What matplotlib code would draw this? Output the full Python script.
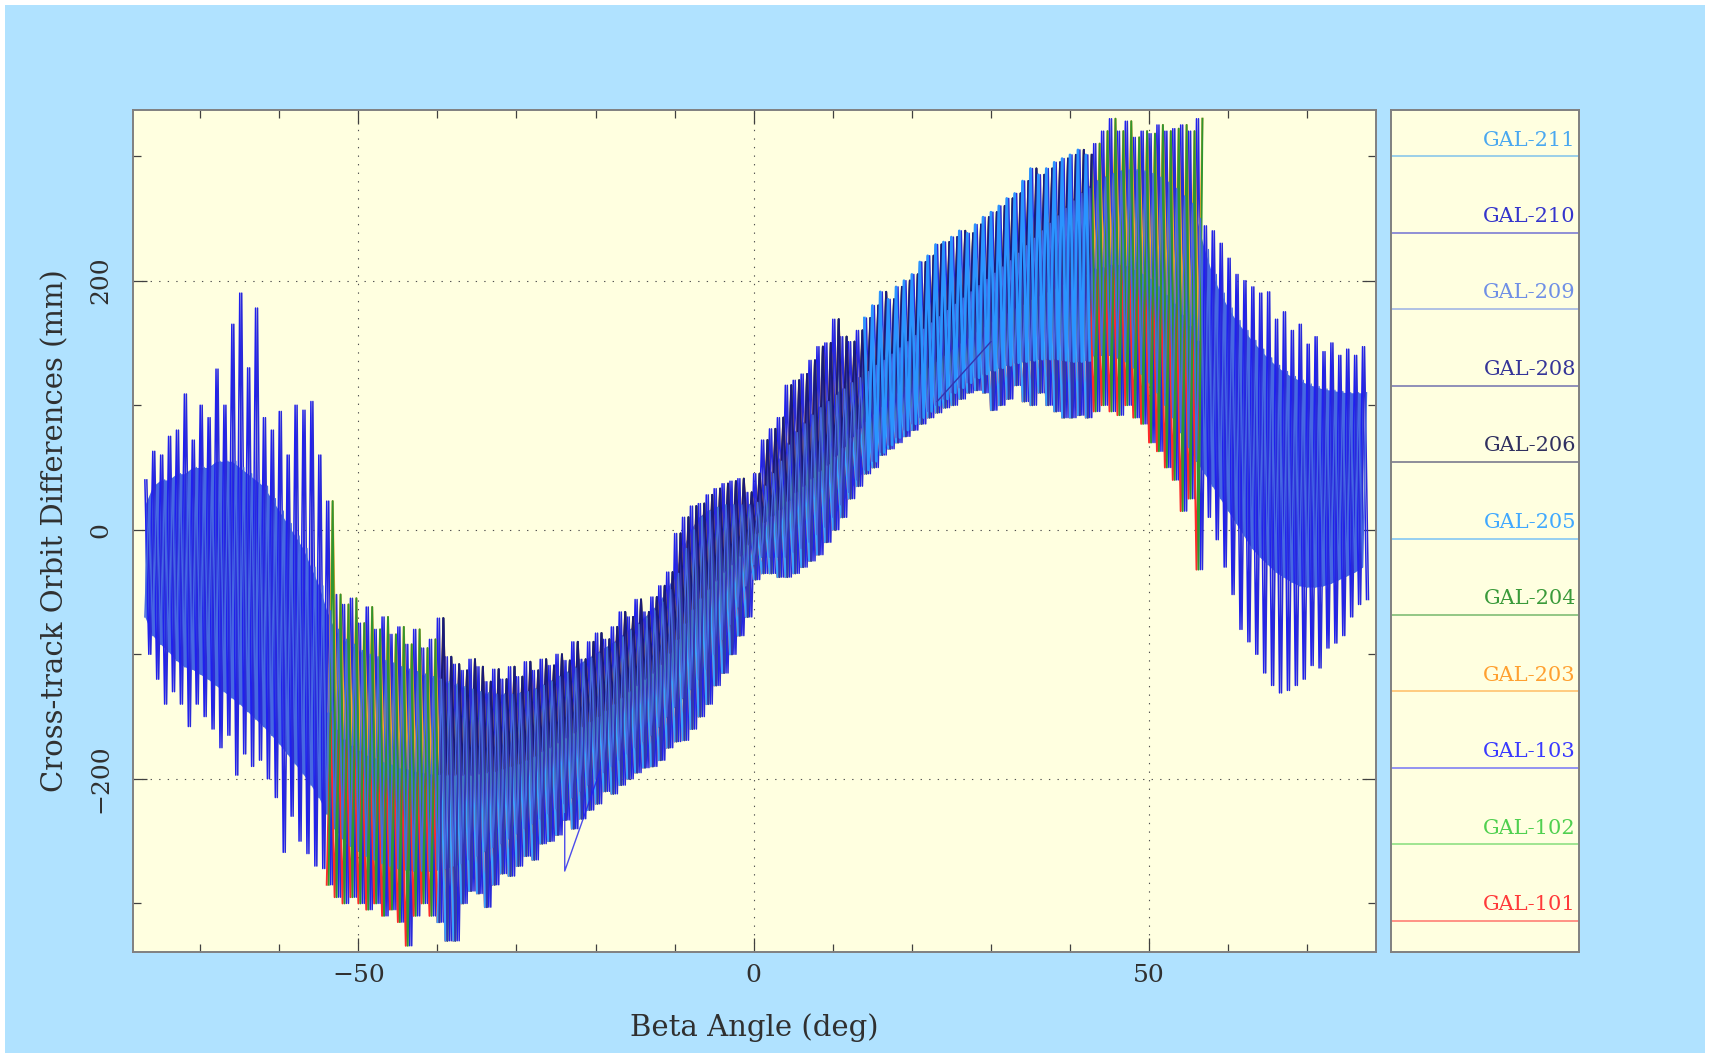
import numpy as np
import matplotlib.pyplot as plt
from matplotlib.patches import Rectangle

# ---- data ----

# beta angle grid (deg), one reading per degree
beta = np.arange(-77, 78)

# reach of the spikes, of the dense core and the core middle at each beta (mm)
spike_hi = [40, 63, 60, 75, 80, 109, 72, 100, 90, 129,
            100, 165, 190, 130, 178, 90, 80, 95, 60, 100,
            96, 103, 60, 23, -52, -60, -55, -75, -62, -80,
            -70, -84, -78, -92, -80, -95, -88, -71, -102, -108,
            -113, -104, -110, -122, -112, -120, -110, -118, -106, -113,
            -104, -109, -100, -105, -90, -104, -90, -83, -88, -78,
            -66, -70, -56, -66, -54, -45, -34, -3, 10, 19,
            21, 28, 33, 37, 39, 41, 30, 45, 72, 81,
            90, 116, 120, 125, 136, 147, 150, 169, 155, 151,
            160, 170, 180, 191, 185, 195, 200, 205, 215, 220,
            229, 231, 235, 240, 238, 245, 251, 255, 260, 266,
            270, 280, 290, 285, 290, 295, 298, 301, 305, 301,
            310, 320, 330, 320, 328, 315, 320, 318, 325, 320,
            322, 325, 320, 330, 244, 240, 230, 218, 205, 200,
            195, 190, 191, 169, 175, 160, 165, 149, 155, 143,
            150, 140, 145, 140, 147]
core_hi = [20, 35, 40, 40, 45, 45, 50, 50, 50, 55,
           55, 55, 50, 45, 40, 35, 25, 15, 5, -5,
           -15, -30, -45, -65, -80, -88, -92, -97, -100, -102,
           -105, -107, -110, -112, -114, -116, -118, -120, -122, -124,
           -126, -128, -130, -131, -132, -132, -132, -131, -130, -128,
           -125, -122, -118, -115, -111, -107, -103, -99, -95, -91,
           -86, -81, -76, -71, -65, -58, -48, -35, -15, 0,
           10, 15, 18, 20, 20, 20, 20, 22, 35, 45,
           55, 68, 78, 85, 92, 98, 103, 108, 113, 118,
           122, 127, 132, 136, 141, 146, 151, 156, 161, 166,
           171, 176, 181, 186, 191, 196, 201, 206, 211, 216,
           222, 228, 234, 240, 246, 252, 258, 264, 270, 274,
           280, 283, 286, 288, 289, 289, 288, 286, 283, 279,
           274, 268, 262, 250, 225, 205, 190, 178, 168, 160,
           152, 145, 138, 132, 127, 123, 120, 117, 115, 113,
           112, 111, 110, 110, 110]
core_mid = [-25, -25, -26, -29, -30, -32, -31, -33, -35, -35,
            -38, -40, -45, -50, -56, -62, -70, -78, -88, -96,
            -105, -117, -130, -146, -160, -168, -173, -177, -181, -183,
            -186, -188, -191, -192, -194, -195, -196, -196, -197, -197,
            -197, -197, -196, -195, -194, -192, -190, -188, -185, -182,
            -178, -175, -171, -167, -163, -158, -154, -150, -145, -140,
            -135, -130, -125, -120, -115, -108, -99, -88, -75, -64,
            -55, -48, -41, -34, -28, -21, -12, -3, 6, 11,
            16, 23, 30, 35, 41, 47, 52, 59, 66, 74,
            81, 87, 93, 99, 104, 110, 115, 120, 125, 130,
            135, 140, 145, 150, 154, 159, 163, 167, 170, 174,
            178, 181, 185, 188, 191, 194, 197, 199, 202, 205,
            210, 211, 213, 213, 212, 209, 206, 202, 196, 189,
            182, 173, 164, 152, 135, 120, 108, 96, 86, 77,
            68, 61, 55, 49, 44, 40, 37, 35, 34, 34,
            34, 35, 36, 38, 40]
core_lo = [-70, -85, -92, -98, -105, -110, -112, -116, -120, -125,
           -130, -135, -140, -146, -152, -158, -165, -172, -180, -188,
           -196, -205, -215, -228, -240, -248, -254, -258, -262, -265,
           -268, -270, -272, -273, -274, -274, -274, -273, -272, -270,
           -268, -265, -262, -258, -255, -252, -248, -244, -240, -236,
           -232, -228, -224, -220, -215, -210, -205, -200, -195, -190,
           -185, -180, -175, -170, -165, -158, -150, -142, -135, -128,
           -120, -112, -100, -88, -76, -62, -45, -28, -22, -22,
           -22, -22, -18, -15, -10, -4, 2, 10, 20, 30,
           40, 48, 55, 62, 68, 74, 80, 85, 90, 95,
           100, 105, 110, 114, 118, 122, 125, 128, 130, 132,
           134, 135, 136, 137, 137, 137, 136, 135, 135, 136,
           140, 140, 140, 138, 135, 130, 125, 118, 110, 100,
           90, 78, 66, 55, 45, 35, 25, 15, 5, -5,
           -15, -22, -28, -34, -38, -42, -45, -46, -46, -45,
           -43, -40, -37, -34, -30]
spike_lo = [-100, -120, -140, -130, -140, -158, -140, -150, -160, -175,
            -165, -197, -180, -190, -185, -200, -215, -259, -230, -250,
            -260, -270, -272, -285, -295, -300, -295, -300, -305, -300,
            -310, -305, -315, -334, -310, -300, -310, -315, -330, -330,
            -300, -290, -292, -303, -285, -276, -278, -270, -262, -265,
            -252, -250, -245, -233, -240, -232, -225, -220, -210, -212,
            -205, -200, -195, -191, -190, -185, -175, -170, -169, -160,
            -150, -140, -125, -115, -100, -85, -70, -40, -35, -35,
            -38, -38, -35, -30, -25, -20, -10, 0, 10, 25,
            35, 45, 50, 60, 65, 70, 75, 80, 85, 90,
            94, 98, 100, 105, 110, 112, 110, 96, 100, 105,
            116, 103, 100, 110, 100, 95, 90, 90, 92, 90,
            95, 100, 95, 92, 100, 90, 85, 70, 63, 50,
            40, 15, 25, -32, 10, -8, -30, -52, -80, -90,
            -100, -115, -125, -131, -129, -125, -120, -109, -111, -95,
            -91, -85, -70, -60, -56]

sats = ["GAL-101", "GAL-102", "GAL-103", "GAL-203", "GAL-204", "GAL-205",
        "GAL-206", "GAL-208", "GAL-209", "GAL-210", "GAL-211"]
beta_start = [-54, -54, -77, -54, -54, -40, -40, -40, -77, -77, 14]
beta_end = [56, 56, 77, 56, 56, 42, 42, 42, 77, 77, 42]

# straight segments across data gaps
gap103_beta = [-23.9, -23.9, -19.4]
gap103_val = [-228, -274, -193]
gap208_beta = [23.2, 30.0]
gap208_val = [103, 151]

colors = {
    "GAL-101": "#ff2a2a", "GAL-102": "#44d044", "GAL-103": "#2020ee",
    "GAL-203": "#ffa030", "GAL-204": "#2f962f", "GAL-205": "#3aa2ff",
    "GAL-206": "#1a1a78", "GAL-208": "#3434b0", "GAL-209": "#4668e2",
    "GAL-210": "#2a2ad8", "GAL-211": "#2a94ff",
}
text_colors = {
    "GAL-101": "#ff3a3a", "GAL-102": "#50d050", "GAL-103": "#3a3aff",
    "GAL-203": "#ffa030", "GAL-204": "#3a9a3a", "GAL-205": "#40a8ff",
    "GAL-206": "#303060", "GAL-208": "#353599", "GAL-209": "#6f8fe6",
    "GAL-210": "#3535cc", "GAL-211": "#4aa8f0",
}

# how each trace swings: upper reach, lower reach, direction, stagger (deg), width
swing = {
    "GAL-103": (spike_hi, spike_lo, 0, 0.0, 1.1),
    "GAL-210": (spike_hi, spike_lo, 0, 0.25, 1.1),
    "GAL-101": (core_mid, spike_lo, 1, 0.0, 1.4),
    "GAL-102": (core_hi, core_lo, 1, 0.0, 1.0),
    "GAL-203": (spike_hi, core_mid, 1, 0.25, 1.4),
    "GAL-204": (spike_hi, spike_lo, 1, 0.25, 1.4),
    "GAL-205": (core_mid, spike_lo, 1, 0.0, 1.4),
    "GAL-208": (spike_hi, spike_lo, 1, 0.25, 1.4),
    "GAL-206": (spike_hi, core_mid, 1, 0.25, 1.4),
    "GAL-209": (core_hi, core_lo, 1, 0.0, 1.0),
    "GAL-211": (spike_hi, core_lo, 0, 0.0, 1.9),
}
draw_order = ["GAL-103", "GAL-210", "GAL-101", "GAL-102", "GAL-203", "GAL-204",
              "GAL-205", "GAL-208", "GAL-206", "GAL-209", "GAL-211"]


def trace(b0, b1, up, down, phase, shift):
    s = slice(b0 - beta[0], b1 - beta[0] + 1)
    a, b = (up, down) if phase == 0 else (down, up)
    x = np.column_stack([beta[s] + shift, beta[s] + shift + 0.5]).ravel()
    y = np.column_stack([np.asarray(a)[s], np.asarray(b)[s]]).ravel()
    return x, y


plt.rcParams["font.family"] = "DejaVu Serif"
txt = "#303030"

fig = plt.figure(figsize=(17.12, 10.53), dpi=100, facecolor="white")
fig.add_artist(Rectangle((5 / 1712, 0), 1700 / 1712, 1048 / 1053,
                         transform=fig.transFigure, facecolor="#b0e2ff",
                         edgecolor="none", zorder=-10))

ax = fig.add_axes([133 / 1712, 1 - 952 / 1053, 1243 / 1712, 842 / 1053])
ax.set_facecolor("#ffffe0")

rng_of = {n: (b0, b1) for n, b0, b1 in zip(sats, beta_start, beta_end)}

# dense core of GAL-209 laid down first, its trace goes on later
b0, b1 = rng_of["GAL-209"]
s = slice(b0 - beta[0], b1 - beta[0] + 1)
ax.fill_between(beta[s], np.asarray(core_lo)[s], np.asarray(core_hi)[s],
                color=colors["GAL-209"], lw=0, zorder=2)

for name in draw_order:
    b0, b1 = rng_of[name]
    up, down, ph, shift, lw = swing[name]
    c = colors[name]
    x, y = trace(b0, b1, up, down, ph, shift)
    ax.plot(x, y, color=c, lw=lw, zorder=2)
    if name == "GAL-103":
        ax.plot(gap103_beta, gap103_val, color=c, lw=1.0, alpha=0.8, zorder=3)
    if name == "GAL-208":
        ax.plot(gap208_beta, gap208_val, color=c, lw=1.0, zorder=3)

ax.set_xlim(-78.5, 78.7)
ax.set_ylim(-339, 337)
ax.set_xticks([-50, 0, 50])
ax.set_xticks(np.arange(-70, 80, 10), minor=True)
ax.set_yticks([-200, 0, 200])
ax.set_yticks([-300, -100, 100, 300], minor=True)
ax.grid(True, which="major", color="#505050", lw=0.8,
        linestyle=(0, (1.2, 6.5)), zorder=0.5)
ax.set_axisbelow(True)
ax.tick_params(which="both", direction="in", top=True, right=True,
               color="#404040", width=0.9, labelcolor=txt, labelsize=18)
ax.tick_params(which="major", length=10)
ax.tick_params(which="minor", length=5.5)
ax.tick_params(axis="x", pad=9)
ax.tick_params(axis="y", pad=15)
for lab in ax.get_yticklabels():
    lab.set_rotation(90)
    lab.set_va("center")
for sp in ax.spines.values():
    sp.set_color("#808080")
    sp.set_linewidth(1.4)

ax.set_xlabel("Beta Angle (deg)", fontsize=21, color=txt, va="center")
ax.xaxis.set_label_coords(0.5, -0.0903)
ax.set_ylabel("Cross-track Orbit Differences (mm)", fontsize=21, color=txt,
              va="center", ha="center")
ax.yaxis.set_label_coords(-0.0628, 0.5)

# ---- legend panel ----
lg = fig.add_axes([1391 / 1712, 1 - 952 / 1053, 188 / 1712, 842 / 1053])
lg.set_facecolor("#ffffe0")
lg.set_xlim(0, 1)
lg.set_ylim(0, 1)
lg.set_xticks([])
lg.set_yticks([])
for sp in lg.spines.values():
    sp.set_color("#808080")
    sp.set_linewidth(1.4)
for k, name in enumerate(sats):
    yy = 0.037 + k * 0.0908
    lg.plot([0.005, 0.995], [yy, yy], color=text_colors[name], lw=1.4, alpha=0.55)
    lg.text(0.984, yy + 0.008, name, color=text_colors[name], fontsize=15,
            ha="right", va="bottom")

fig.savefig("out.png", dpi=100)
